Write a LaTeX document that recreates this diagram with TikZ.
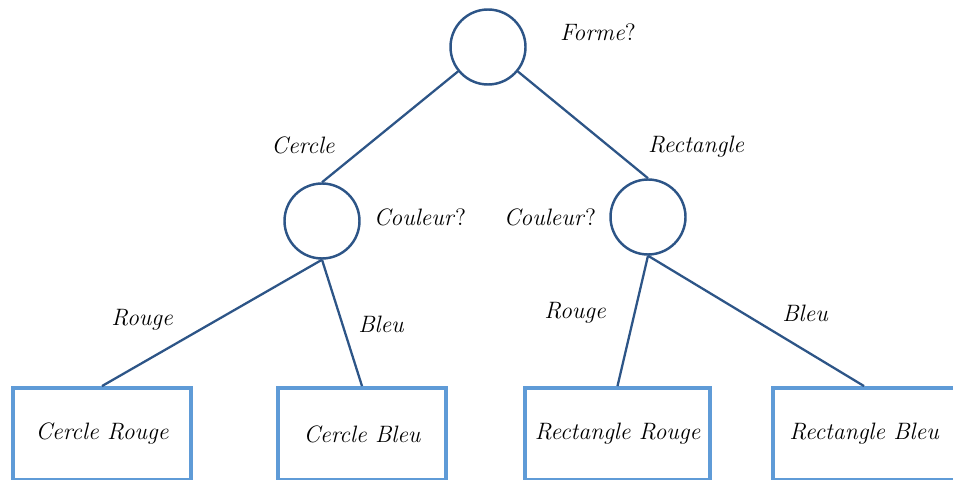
\documentclass[tikz,border=0pt]{standalone}
\begin{document}
\begin{tikzpicture}[
		noeud/.style={circle, draw=darkblue, line width=1.4pt, minimum size=1.5cm, inner sep=0pt},
		feuille/.style={draw=lightblue, line width=2.2pt, minimum height=1.84cm, font=\fontsize{13.5}{16}\selectfont\itshape},
		lien/.style={draw=darkblue, line width=1.3pt},
		etiq/.style={font=\fontsize{13.5}{16}\selectfont\itshape}
	]
		\definecolor{darkblue}{RGB}{45,85,135}
		\definecolor{lightblue}{RGB}{95,155,215}
		\useasboundingbox (0,0) rectangle (19.06,9.58);

		% questions
		\node[noeud] (forme) at (9.76,8.64) {};
		\node[noeud] (coulA) at (6.44,5.16) {};
		\node[noeud] (coulB) at (12.96,5.24) {};

		% feuilles
		\node[feuille, minimum width=3.56cm] (cr) at (2.04,0.9) {Cercle Rouge};
		\node[feuille, minimum width=3.36cm] (cb) at (7.24,0.9) {Cercle Bleu};
		\node[feuille, minimum width=3.70cm] (rr) at (12.35,0.9) {Rectangle Rouge};
		\node[feuille, minimum width=3.64cm] (rb) at (17.28,0.9) {Rectangle Bleu};

		\draw[lien] (forme) -- (coulA.north);
		\draw[lien] (forme) -- (coulB.north);
		\draw[lien] (coulA.south) -- (cr.north);
		\draw[lien] (coulA.south) -- (cb.north);
		\draw[lien] (coulB.south) -- (rr.north);
		\draw[lien] (coulB.south) -- (rb.north);

		% textes
		\node[etiq] (tforme) at (11.96,8.94) {Forme\textup{?}};
		\node[etiq] (tcercle) at (6.06,6.68) {Cercle};
		\node[etiq] (trect) at (13.92,6.64) {Rectangle};
		\node[etiq] (tcoulA) at (8.4,5.24) {Couleur\textup{?}};
		\node[etiq] (tcoulB) at (11.0,5.24) {Couleur\textup{?}};
		\node[etiq] (trougeA) at (2.84,3.18) {Rouge};
		\node[etiq] (tbleuA) at (7.62,3.10) {Bleu};
		\node[etiq] (trougeB) at (11.5,3.32) {Rouge};
		\node[etiq] (tbleuB) at (16.1,3.32) {Bleu};
	\end{tikzpicture}
\end{document}
